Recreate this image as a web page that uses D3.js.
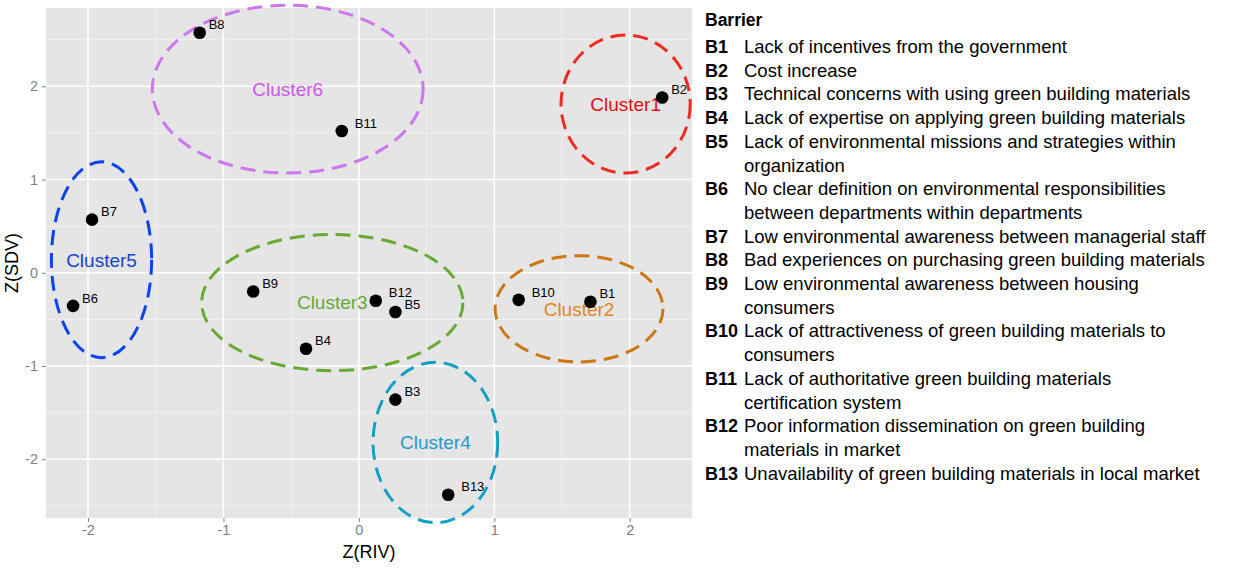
<!DOCTYPE html>
<html>
<head>
<meta charset="utf-8">
<script src="https://cdn.jsdelivr.net/npm/d3@7"></script>
<style>
  body { margin: 0; background: #fff; }
  text { font-family: "Liberation Sans", Arial, Helvetica, sans-serif; }
</style>
</head>
<body>
<svg id="chart" width="1242" height="579"></svg>
<script>
// barrier scores
var barrierIds = ["B1","B2","B3","B4","B5","B6","B7","B8","B9","B10","B11","B12","B13"];
var zRIV = [1.71, 2.24, 0.27, -0.39, 0.27, -2.11, -1.97, -1.175, -0.78, 1.18, -0.126, 0.125, 0.66];
var zSDV = [-0.31, 1.88, -1.36, -0.815, -0.42, -0.355, 0.57, 2.575, -0.20, -0.29, 1.52, -0.30, -2.38];

// clusters drawn as dashed ellipses (centre and radii in data units)
var clusterNames = ["Cluster1","Cluster2","Cluster3","Cluster4","Cluster5","Cluster6"];
var clusterCx = [1.97, 1.626, -0.196, 0.565, -1.90, -0.525];
var clusterCy = [1.81, -0.386, -0.32, -1.82, 0.14, 1.97];
var clusterRx = [0.477, 0.62, 0.965, 0.46, 0.37, 1.0];
var clusterRy = [0.74, 0.57, 0.73, 0.86, 1.05, 0.90];
var clusterLine = ["#ee2a22","#cc7711","#66aa33","#14a0c4","#0a44ee","#cc77ee"];
var clusterText = ["#dd1111","#dd8822","#66aa33","#2299cc","#1144cc","#cc55ee"];

var xTicks = [-2, -1, 0, 1, 2];
var yTicks = [-2, -1, 0, 1, 2];

var legendIds = barrierIds;
var legendText = [
  ["Lack of incentives from the government"],
  ["Cost increase"],
  ["Technical concerns with using green building materials"],
  ["Lack of expertise on applying green building materials"],
  ["Lack of environmental missions and strategies within", "organization"],
  ["No clear definition on environmental responsibilities", "between departments within departments"],
  ["Low environmental awareness between managerial staff"],
  ["Bad experiences on purchasing green building materials"],
  ["Low environmental awareness between housing", "consumers"],
  ["Lack of attractiveness of green building materials to", "consumers"],
  ["Lack of authoritative green building materials", "certification system"],
  ["Poor information dissemination on green building", "materials in market"],
  ["Unavailability of green building materials in local market"]
];

var svg = d3.select("#chart");
var panel = {left: 46, right: 692, top: 8, bottom: 518};

var x = d3.scaleLinear().domain([-2.31, 2.46]).range([panel.left, panel.right]);
var y = d3.scaleLinear().domain([-2.63, 2.84]).range([panel.bottom, panel.top]);

// panel background
svg.append("rect")
  .attr("x", panel.left).attr("y", panel.top)
  .attr("width", panel.right - panel.left)
  .attr("height", panel.bottom - panel.top)
  .attr("fill", "#e5e5e5");

var grid = svg.append("g");
var minorX = d3.range(-2.5, 3, 1).filter(function(v) { return x(v) > panel.left && x(v) < panel.right; });
var minorY = d3.range(-2.5, 3, 1).filter(function(v) { return y(v) < panel.bottom && y(v) > panel.top; });

grid.selectAll(".mx").data(minorX).enter().append("line")
  .attr("x1", d => x(d)).attr("x2", d => x(d))
  .attr("y1", panel.top).attr("y2", panel.bottom)
  .attr("stroke", "#f2f2f2").attr("stroke-width", 0.8);
grid.selectAll(".my").data(minorY).enter().append("line")
  .attr("y1", d => y(d)).attr("y2", d => y(d))
  .attr("x1", panel.left).attr("x2", panel.right)
  .attr("stroke", "#f2f2f2").attr("stroke-width", 0.8);
grid.selectAll(".gx").data(xTicks).enter().append("line")
  .attr("x1", d => x(d)).attr("x2", d => x(d))
  .attr("y1", panel.top).attr("y2", panel.bottom)
  .attr("stroke", "#ffffff").attr("stroke-width", 1.6);
grid.selectAll(".gy").data(yTicks).enter().append("line")
  .attr("y1", d => y(d)).attr("y2", d => y(d))
  .attr("x1", panel.left).attr("x2", panel.right)
  .attr("stroke", "#ffffff").attr("stroke-width", 1.6);

// axes
var fmt = function(d) { return String(d); };
var xAxis = svg.append("g")
  .attr("transform", "translate(0," + panel.bottom + ")")
  .call(d3.axisBottom(x).tickValues(xTicks).tickSize(4).tickPadding(3).tickFormat(fmt));
var yAxis = svg.append("g")
  .attr("transform", "translate(" + panel.left + ",0)")
  .call(d3.axisLeft(y).tickValues(yTicks).tickSize(4).tickPadding(4).tickFormat(fmt));
[xAxis, yAxis].forEach(function(a) {
  a.select(".domain").remove();
  a.selectAll(".tick line").attr("stroke", "#7f7f7f");
  a.selectAll(".tick text").attr("fill", "#7f7f7f").style("font-size", "14.5px")
    .style("font-family", "'Liberation Sans', Arial, sans-serif");
});

svg.append("text")
  .attr("x", (panel.left + panel.right) / 2).attr("y", 558)
  .attr("text-anchor", "middle").style("font-size", "18px").text("Z(RIV)");
svg.append("text")
  .attr("transform", "translate(18," + (panel.top + panel.bottom) / 2 + ") rotate(-90)")
  .attr("text-anchor", "middle").style("font-size", "18px").text("Z(SDV)");

// cluster ellipses
var clusters = clusterNames.map(function(n, i) {
  return {name: n, cx: clusterCx[i], cy: clusterCy[i], rx: clusterRx[i], ry: clusterRy[i],
          line: clusterLine[i], text: clusterText[i]};
});
svg.append("g").selectAll("ellipse").data(clusters).enter().append("ellipse")
  .attr("cx", d => x(d.cx)).attr("cy", d => y(d.cy))
  .attr("rx", d => x(d.cx + d.rx) - x(d.cx))
  .attr("ry", d => y(d.cy) - y(d.cy + d.ry))
  .attr("fill", "none").attr("stroke", d => d.line)
  .attr("stroke-width", 3).attr("stroke-dasharray", "15,8");
svg.append("g").selectAll("text").data(clusters).enter().append("text")
  .attr("x", d => x(d.cx)).attr("y", d => y(d.cy))
  .attr("text-anchor", "middle").attr("dy", "0.36em")
  .attr("fill", d => d.text).style("font-size", "19px")
  .text(d => d.name);

// barriers
var points = barrierIds.map(function(id, i) { return {id: id, x: zRIV[i], y: zSDV[i]}; });
svg.append("g").selectAll("circle").data(points).enter().append("circle")
  .attr("cx", d => x(d.x)).attr("cy", d => y(d.y)).attr("r", 6.3).attr("fill", "#000");
svg.append("g").selectAll("text").data(points).enter().append("text")
  .attr("x", d => x(d.x) + 4 * d.id.length + 1)
  .attr("y", d => y(d.y) - 8).attr("dy", "0.36em")
  .style("font-size", "13px").attr("fill", "#000")
  .text(d => d.id);

// legend
var lg = svg.append("g").attr("transform", "translate(705,0)");
lg.append("text").attr("x", 0).attr("y", 26)
  .style("font-size", "17.5px").style("font-weight", "bold").text("Barrier");
var row = 0, lineH = 23.7, y0 = 53;
legendIds.forEach(function(id, i) {
  var yy = y0 + row * lineH;
  lg.append("text").attr("x", 0).attr("y", yy)
    .style("font-size", "18px").style("font-weight", "bold").text(id);
  legendText[i].forEach(function(line, k) {
    lg.append("text").attr("x", 39).attr("y", yy + k * lineH)
      .style("font-size", "18.5px").text(line);
  });
  row += legendText[i].length;
});
</script>
</body>
</html>
